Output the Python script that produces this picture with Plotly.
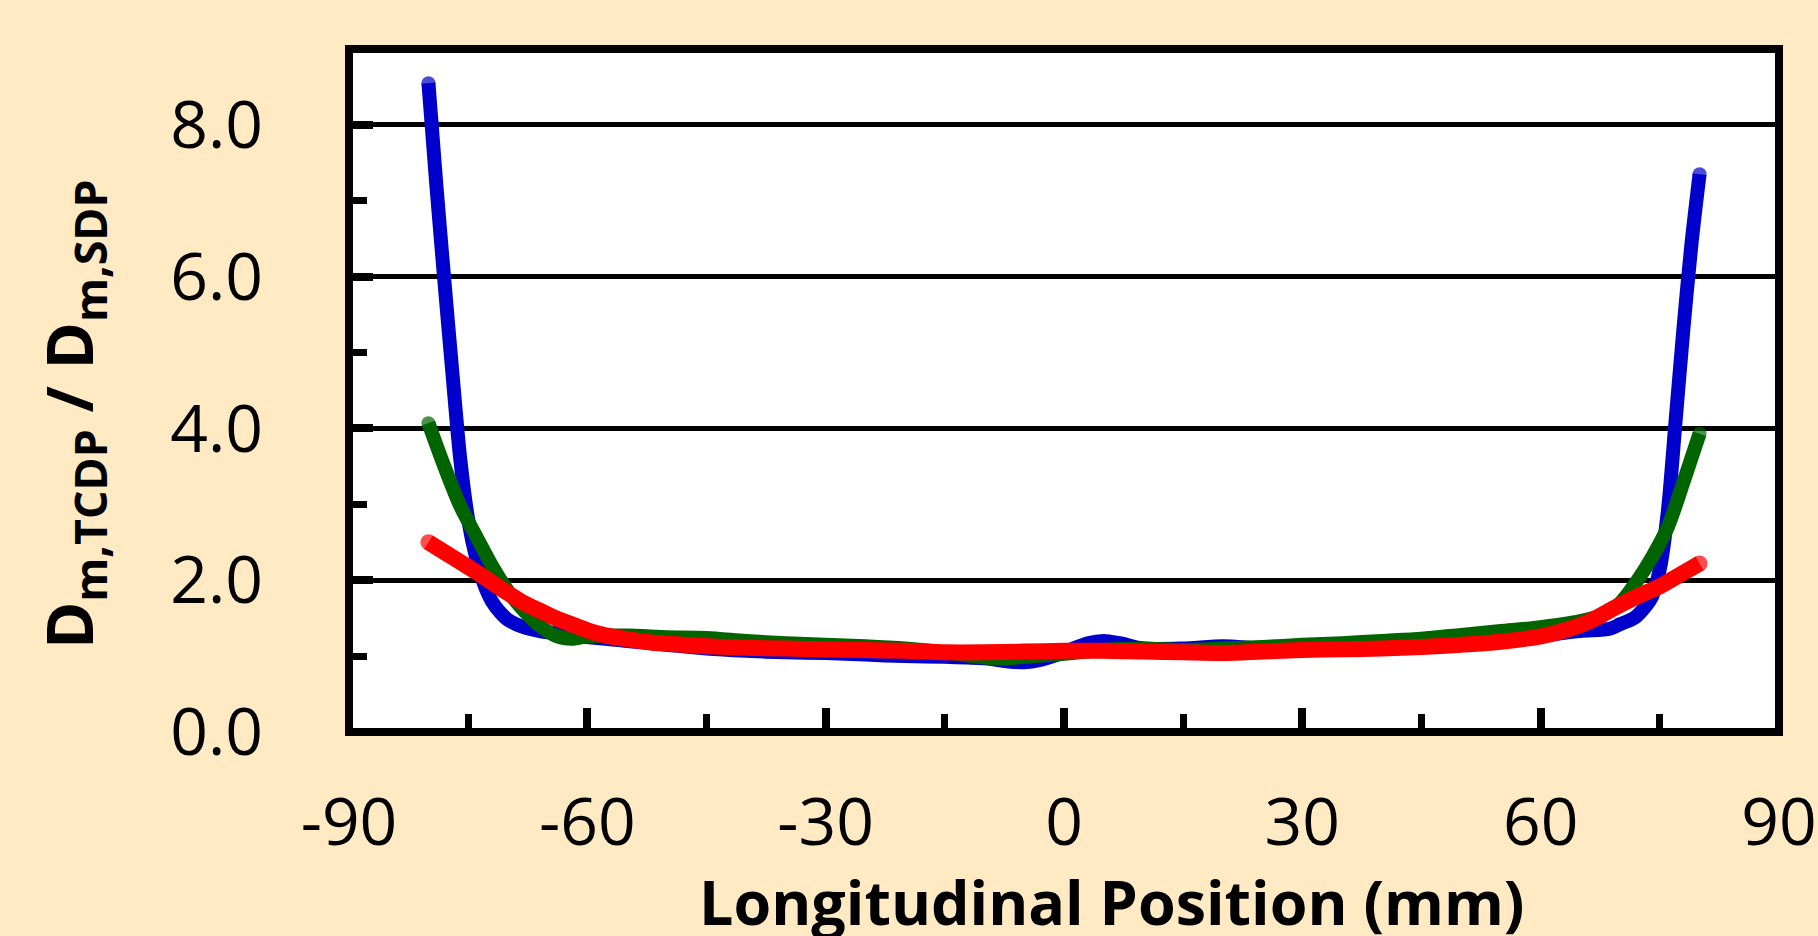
import plotly.graph_objects as go

# ---- data ----
blue_x = [-80, -79, -78, -77, -76, -75, -74, -73, -72, -71, -70, -68, -66, -63, -60, -55, -50, -45, -40,
          -35, -30, -25, -20, -15, -10, -7, -5, -3, 0, 3, 5, 7, 10, 15, 20, 25, 30, 35, 40, 45, 50,
          55, 60, 65, 68.7, 70, 72, 74, 75, 76, 77, 78, 79, 80]
blue_y = [8.55, 7.2, 5.95, 4.75, 3.6, 2.8, 2.3, 1.95, 1.72, 1.58, 1.48, 1.38, 1.33, 1.29, 1.25, 1.2, 1.15,
          1.1, 1.07, 1.05, 1.04, 1.02, 1.0, 0.99, 0.97, 0.93, 0.92, 0.95, 1.05, 1.17, 1.2, 1.17, 1.1, 1.1,
          1.13, 1.1, 1.1, 1.12, 1.14, 1.16, 1.19, 1.22, 1.27, 1.33, 1.36, 1.42, 1.52, 1.78, 2.15, 2.9,
          4.12, 5.35, 6.45, 7.35]

green_x = [-80, -78, -76, -74, -72, -70, -68, -66, -64, -62, -60, -55, -50, -45, -40, -35, -30, -25,
           -20, -15, -10, -7, -5, 0, 5, 10, 15, 20, 25, 30, 35, 40, 45, 50, 55, 60, 65, 68, 70, 72, 74,
           76, 78, 80]
green_y = [4.07, 3.5, 2.98, 2.58, 2.19, 1.86, 1.6, 1.4, 1.27, 1.23, 1.26, 1.27, 1.25, 1.24, 1.2, 1.17,
           1.15, 1.13, 1.1, 1.05, 0.98, 0.97, 0.99, 1.03, 1.08, 1.1, 1.08, 1.1, 1.12, 1.15, 1.17, 1.2,
           1.23, 1.28, 1.33, 1.38, 1.46, 1.55, 1.7, 1.97, 2.3, 2.7, 3.3, 3.93]

red_x = [-80, -78, -76, -74, -72, -70, -68, -66, -64, -62, -60, -58, -56, -52, -48, -45, -40, -35, -30,
         -25, -20, -15, -10, -5, 0, 5, 10, 15, 20, 25, 30, 35, 40, 45, 50, 55, 60, 63, 66, 69, 72, 75,
         78, 80]
red_y = [2.5, 2.37, 2.24, 2.11, 1.97, 1.83, 1.7, 1.6, 1.5, 1.42, 1.34, 1.28, 1.24, 1.18, 1.15, 1.13,
         1.11, 1.1, 1.09, 1.08, 1.07, 1.05, 1.05, 1.06, 1.07, 1.07, 1.06, 1.05, 1.04, 1.06, 1.08, 1.09,
         1.1, 1.12, 1.15, 1.19, 1.26, 1.34, 1.45, 1.62, 1.78, 1.92, 2.1, 2.22]

x_ticks = [-90, -60, -30, 0, 30, 60, 90]
x_tick_labels = ["-90", "-60", "-30", "0", "30", "60", "90"]
y_ticks = [0, 2, 4, 6, 8]
y_tick_labels = ["0.0", "2.0", "4.0", "6.0", "8.0"]
x_title = "Longitudinal Position (mm)"
y_title = "D<sub>m,TCDP</sub> / D<sub>m,SDP</sub>"

series = [
    (blue_x, blue_y, "#0000CC", 14),
    (green_x, green_y, "#006400", 14),
    (red_x, red_y, "#FF0000", 16),
]

fig = go.Figure()
for xs, ys, col, w in series:
    sizes = [w] + [0] * (len(xs) - 2) + [w]
    fig.add_trace(go.Scatter(
        x=xs, y=ys, mode="lines+markers",
        line=dict(color=col, width=w, shape="spline", smoothing=0.8),
        marker=dict(size=sizes, color=col, line=dict(width=0)),
        showlegend=False, hoverinfo="skip",
    ))

W, H = 1818, 936
L, R, T, B = 349, 1779.5, 49, 732
BG = "#FFEAC4"
tick_font = dict(family="Open Sans", size=66, color="black")

fig.update_layout(
    width=W, height=H,
    margin=dict(l=L, r=W - R, t=T, b=H - B, pad=0, autoexpand=False),
    paper_bgcolor=BG,
    plot_bgcolor="white",
    showlegend=False,
    xaxis=dict(
        range=[-90, 90], tickvals=x_ticks, ticktext=x_tick_labels, automargin=False,
        showline=False, zeroline=False, showgrid=False,
        ticks="inside", ticklen=24, tickwidth=8, tickcolor="black",
        tickfont=tick_font, ticklabelstandoff=46,
        minor=dict(dtick=15, tick0=-90, ticks="inside", ticklen=18, tickwidth=7,
                   tickcolor="black", showgrid=False),
    ),
    yaxis=dict(
        range=[0, 9], tickvals=y_ticks, ticktext=y_tick_labels, automargin=False,
        showline=False, zeroline=False,
        showgrid=True, gridcolor="black", gridwidth=5,
        ticks="inside", ticklen=24, tickwidth=8, tickcolor="black",
        tickfont=tick_font, ticklabelstandoff=85,
        minor=dict(dtick=1, tick0=0, ticks="inside", ticklen=18, tickwidth=7,
                   tickcolor="black", showgrid=False),
    ),
    shapes=[dict(type="rect", xref="paper", yref="paper", x0=0, x1=1, y0=0, y1=1,
                 line=dict(color="black", width=8), layer="above")],
    annotations=[
        dict(text=x_title, xref="paper", yref="paper",
             x=(1112 - L) / (R - L), y=(B - 901) / (B - T),
             xanchor="center", yanchor="middle", showarrow=False,
             font=dict(family="Open Sans", size=61, color="black", weight="bold")),
        dict(text=y_title, xref="paper", yref="paper",
             x=(72 - L) / (R - L), y=(B - 414) / (B - T),
             xanchor="center", yanchor="middle", showarrow=False, textangle=-90,
             font=dict(family="Open Sans", size=64, color="black", weight="bold")),
    ],
)

fig.write_html(
    "out.html",
    config={"displayModeBar": False},
    post_script="document.body.style.margin='0';document.body.style.background='%s';" % BG,
)
